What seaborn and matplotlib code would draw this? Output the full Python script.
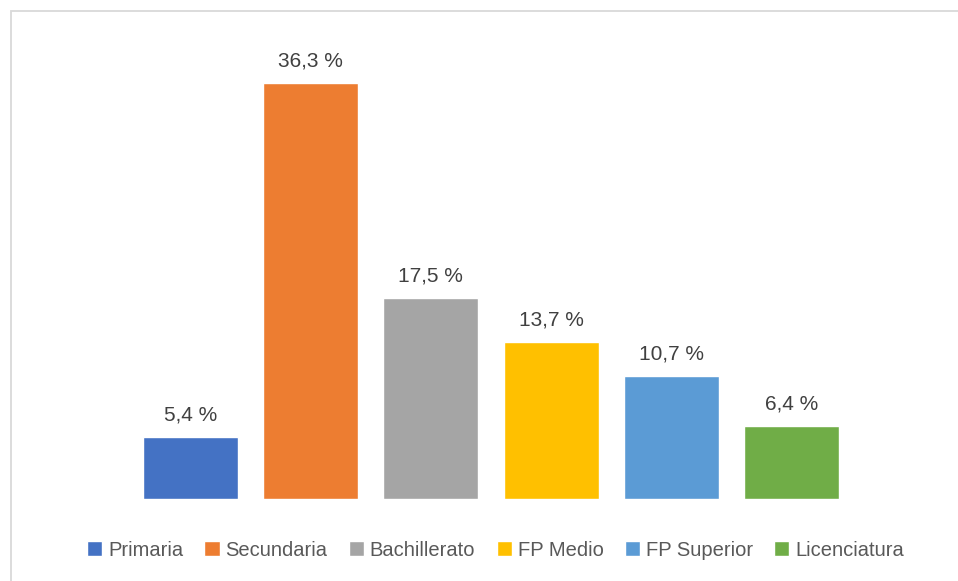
import matplotlib
matplotlib.use("Agg")
import matplotlib.pyplot as plt
import seaborn as sns
import pandas as pd
from matplotlib.patches import Rectangle

categories = ["Primaria", "Secundaria", "Bachillerato", "FP Medio", "FP Superior", "Licenciatura"]
values = [5.4, 36.3, 17.5, 13.7, 10.7, 6.4]
colors = ["#4472C4", "#ED7D31", "#A5A5A5", "#FFC000", "#5B9BD5", "#70AD47"]
labels = [f"{v:.1f}".replace(".", ",") + " %" for v in values]

sns.set_style("white")
plt.rcParams["font.family"] = ["Liberation Sans", "DejaVu Sans"]

W, H = 958, 581
fig = plt.figure(figsize=(W / 100, H / 100), dpi=100)
ax = fig.add_axes([130.4 / W, 82 / H, 721.2 / W, 458.4 / H])

df = pd.DataFrame({"cat": categories, "val": values})
sns.barplot(data=df, x="cat", y="val", hue="cat", palette=colors,
            width=0.79, ax=ax, saturation=1, legend=True)
ax.set_ylim(0, 40)
ax.set_xlim(-0.5, 5.5)

for cont, lab in zip(ax.containers, labels):
    ax.bar_label(cont, labels=[lab], padding=9, fontsize=15, color="#404040")

for s in ax.spines.values():
    s.set_visible(False)
ax.set_xticks([])
ax.set_yticks([])
ax.set_xlabel("")
ax.set_ylabel("")

sns.move_legend(ax, "center", bbox_to_anchor=(495.5 / W, 1 - 550 / H),
                bbox_transform=fig.transFigure, ncol=6, frameon=False,
                fontsize=14.5, handlelength=0.75, handleheight=0.75,
                handletextpad=0.3, columnspacing=1.05, title=None,
                labelcolor="#595959")

fig.patches.append(Rectangle((10.5 / W, -0.1), 2, 1.1 - 10.5 / H,
                             transform=fig.transFigure, fill=False,
                             edgecolor="#D9D9D9", linewidth=1.3))

fig.savefig("out.png", dpi=100)
